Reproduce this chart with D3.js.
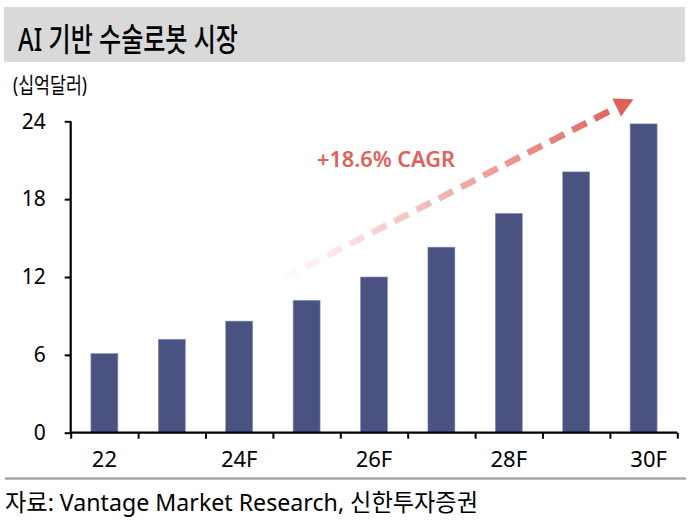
<!DOCTYPE html>
<html>
<head>
<meta charset="utf-8">
<script src="https://cdn.jsdelivr.net/npm/d3@7"></script>
<style>
  body { margin: 0; background: #fff; }
  text { font-family: "Noto Sans", "Noto Sans CJK KR", sans-serif; }
</style>
</head>
<body>
<div id="chart"></div>
<script>
// data (십억달러)
var years = ["22", "23F", "24F", "25F", "26F", "27F", "28F", "29F", "30F"];
var values = [6.1, 7.2, 8.6, 10.2, 12.0, 14.3, 16.9, 20.1, 23.8];
var yTicks = [0, 6, 12, 18, 24];
var shownLabels = ["22", "24F", "26F", "28F", "30F"];
// CAGR arrow, in category-slot units (x) and value units (y)
var arrowFrom = [3.15, 11.9];
var arrowTo = [8.1, 25.07];
var arrowTip = [8.35, 25.7];

var W = 689, H = 521;
var margin = {top: 121.3, right: 11.7, bottom: 88.3, left: 70.7},
    width = W - margin.left - margin.right,
    height = H - margin.top - margin.bottom;

var svg = d3.select("#chart")
  .append("svg")
    .attr("width", W)
    .attr("height", H);

// title band
svg.append("rect")
  .attr("x", 4).attr("y", 7)
  .attr("width", 681).attr("height", 55)
  .attr("fill", "#d9d9d9");

svg.append("text")
  .attr("x", 18).attr("y", 51)
  .attr("font-family", "'Open Sans', 'Noto Sans CJK KR', sans-serif")
  .attr("font-size", 32)
  .attr("font-weight", 500)
  .attr("textLength", 220)
  .attr("lengthAdjust", "spacingAndGlyphs")
  .attr("fill", "#000")
  .text("AI 기반 수술로봇 시장");

svg.append("text")
  .attr("x", 13).attr("y", 93)
  .attr("font-family", "'Noto Sans CJK KR', sans-serif")
  .attr("font-size", 22)
  .attr("textLength", 74)
  .attr("lengthAdjust", "spacingAndGlyphs")
  .text("(십억달러)");

var g = svg.append("g")
  .attr("transform", `translate(${margin.left},${margin.top})`);

var x = d3.scaleBand()
  .domain(years)
  .range([0, width])
  .paddingInner(0.6)
  .paddingOuter(0.3);

// linear helper over the category slots, used for boundary ticks and the arrow
var xu = d3.scaleLinear().domain([0, years.length]).range([0, width]);

var y = d3.scaleLinear()
  .domain([0, 24])
  .range([height, 0]);

// bars
g.selectAll("rect.bar")
  .data(values)
  .join("rect")
    .attr("class", "bar")
    .attr("x", (d, i) => x(years[i]))
    .attr("y", d => y(d))
    .attr("width", x.bandwidth())
    .attr("height", d => height - y(d))
    .attr("fill", "#4a5282")
    .attr("stroke", "#8a90b4")
    .attr("stroke-width", 0.6);

// y axis
var yAxis = g.append("g")
  .call(d3.axisLeft(y).tickValues(yTicks).tickSize(6).tickPadding(19));
yAxis.select(".domain").attr("stroke", "#000").attr("stroke-width", 2.2)
  .attr("d", `M0,${height}V0`);
yAxis.selectAll(".tick line").attr("stroke", "#000").attr("stroke-width", 2);
yAxis.selectAll("text")
  .attr("font-size", 21)
  .attr("font-family", "'Noto Sans', sans-serif")
  .attr("fill", "#000");

// x axis: ticks on slot boundaries
var xAxis = g.append("g")
  .attr("transform", `translate(0,${height})`)
  .call(d3.axisBottom(xu).tickValues(d3.range(0, years.length + 1)).tickSize(6).tickFormat(""));
xAxis.select(".domain").attr("stroke", "#000").attr("stroke-width", 2.2)
  .attr("d", `M0,0H${width}`);
xAxis.selectAll(".tick line").attr("stroke", "#000").attr("stroke-width", 2);

// category labels, every other year
g.append("g")
  .selectAll("text")
  .data(shownLabels)
  .join("text")
    .attr("x", d => x(d) + x.bandwidth() / 2 + (d === "30F" ? 5 : 0))
    .attr("y", height + 34)
    .attr("text-anchor", "middle")
    .attr("font-size", 22)
    .attr("fill", "#000")
    .text(d => d);

// CAGR arrow with fading dashes
var x0 = xu(arrowFrom[0]), y0 = y(arrowFrom[1]);
var x1 = xu(arrowTo[0]), y1 = y(arrowTo[1]);
var xt = xu(arrowTip[0]), yt = y(arrowTip[1]);

var grad = svg.append("defs").append("linearGradient")
  .attr("id", "fade")
  .attr("gradientUnits", "userSpaceOnUse")
  .attr("x1", x0 + margin.left).attr("y1", y0 + margin.top)
  .attr("x2", x1 + margin.left).attr("y2", y1 + margin.top);
grad.append("stop").attr("offset", 0).attr("stop-color", "#e0605a").attr("stop-opacity", 0.03);
grad.append("stop").attr("offset", 0.55).attr("stop-color", "#e0605a").attr("stop-opacity", 0.55);
grad.append("stop").attr("offset", 1).attr("stop-color", "#e0605a").attr("stop-opacity", 1);

g.append("path")
  .attr("d", d3.line()([[x0, y0], [x1, y1]]))
  .attr("stroke", "url(#fade)")
  .attr("stroke-width", 6.5)
  .attr("stroke-dasharray", "16,9")
  .attr("fill", "none");

// arrow head
var ang = Math.atan2(yt - y1, xt - x1);
var half = 10;
var px = -Math.sin(ang) * half, py = Math.cos(ang) * half;
g.append("path")
  .attr("d", d3.line()([[xt, yt], [x1 + px, y1 + py], [x1 - px, y1 - py]]) + "Z")
  .attr("fill", "#e0605a");

svg.append("text")
  .attr("x", 317).attr("y", 167)
  .attr("font-family", "'Open Sans', sans-serif")
  .attr("font-size", 21)
  .attr("font-weight", 600)
  .attr("textLength", 138)
  .attr("lengthAdjust", "spacingAndGlyphs")
  .attr("fill", "#e0605a")
  .text("+18.6% CAGR");

// footer
svg.append("line")
  .attr("x1", 5).attr("x2", 686)
  .attr("y1", 478.5).attr("y2", 478.5)
  .attr("stroke", "#a6a6a6")
  .attr("stroke-width", 2.5);

svg.append("text")
  .attr("x", 5).attr("y", 511)
  .attr("font-family", "'Noto Sans', 'Noto Sans CJK KR', sans-serif")
  .attr("font-size", 24)
  .attr("textLength", 473)
  .attr("lengthAdjust", "spacingAndGlyphs")
  .attr("fill", "#000")
  .text("자료: Vantage Market Research, 신한투자증권");
</script>
</body>
</html>
